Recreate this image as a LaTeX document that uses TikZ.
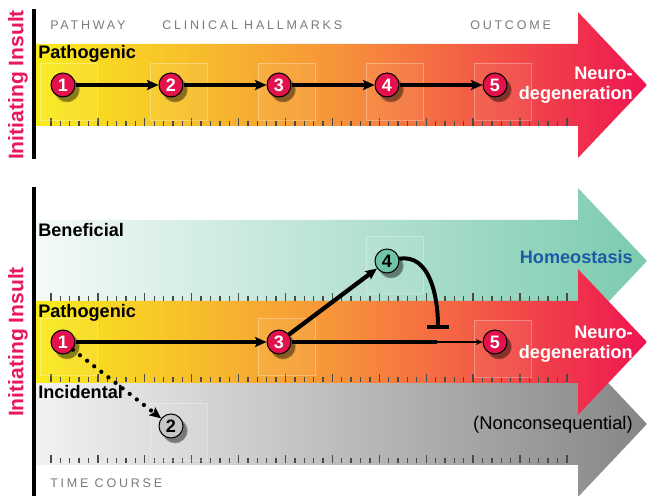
\documentclass[tikz,border=0pt]{standalone}
\usepackage{fontspec}
\setmainfont{Liberation Sans}
\newfontfamily\spacedfont[LetterSpace=22]{Liberation Sans}
\usetikzlibrary{arrows.meta, shadows}
\definecolor{insultred}{HTML}{E8185A}
\definecolor{stagered}{HTML}{E3124C}
\definecolor{bandyellow}{HTML}{F8EC1C}
\definecolor{bandorange}{HTML}{F7923A}
\definecolor{bandred}{HTML}{EE1552}
\definecolor{bandmint}{HTML}{F4FAF7}
\definecolor{bandteal}{HTML}{7CCBAF}
\definecolor{stageteal}{HTML}{6EC4A5}
\definecolor{bandlight}{HTML}{F2F2F2}
\definecolor{banddark}{HTML}{868686}
\definecolor{stagegray}{HTML}{C6C6C6}
\definecolor{homeoblue}{HTML}{1B5BA6}
\definecolor{capsgray}{HTML}{7A7A7A}
\definecolor{tickgray}{HTML}{4A4A4A}

\tikzset{
  stage/.style={circle, draw=black, line width=0.8pt, minimum size=18pt, inner sep=0pt,
    fill=stagered, text=white, font=\fontsize{13.5}{13.5}\selectfont\bfseries,
    circular drop shadow={shadow xshift=2.5pt, shadow yshift=-3pt, opacity=0.45, fill=black}},
  link/.style={line width=3.2pt, -{Stealth[length=8.5pt, width=7.5pt, inset=1.5pt]}},
  dotlink/.style={line width=3.2pt, line cap=round, dash pattern=on 0pt off 6.75pt,
    -{Stealth[length=8.5pt, width=7.5pt, inset=1.5pt]}},
  thinlink/.style={line width=0.8pt, -{Stealth[length=5pt, width=4.5pt]}},
  inhibit/.style={line width=3pt, -{Bar[width=16.5pt, line width=3pt]}},
  rowlabel/.style={anchor=base west, inner sep=0pt, font=\fontsize{13.6}{15}\selectfont\bfseries},
  endlabel/.style={inner sep=0pt, align=right, font=\fontsize{13.6}{15}\selectfont\bfseries},
  hallmark/.style={anchor=base west, inner sep=0pt, text=capsgray,
    font=\spacedfont\fontsize{9.4}{10}\selectfont},
  insult/.style={rotate=90, inner sep=0pt, text=insultred, font=\fontsize{15.8}{16}\selectfont\bfseries},
  tickmark/.style={tickgray, line width=1pt},
  stagebox/.style={draw=white, draw opacity=0.3, fill=white, fill opacity=0.06, line width=0.6pt}
}

% one wide arrow band: #1 = centre height, #2 = shading
\newcommand{\bandarrow}[2]{%
  \shade[#2] (35,#1-41) -- (578,#1-41) -- (578,#1-73) -- (647,#1)
    -- (578,#1+73) -- (578,#1+41) -- (35,#1+41) -- cycle;}

% time ruler along the bottom of a band
\newcommand{\timeticks}[1]{%
  \foreach \k in {0,...,55} {
    \pgfmathsetmacro{\ticklen}{mod(\k,5)==0 ? 8 : 5}
    \draw[tickmark] (51+9.38*\k,#1) -- ++(0,\ticklen);
  }}

\begin{document}
\begin{tikzpicture}[x=0.75pt, y=0.75pt]
  \useasboundingbox (0,0) rectangle (647,496);

  % Upper panel
  \bandarrow{411}{left color=bandyellow, right color=bandred, middle color=bandorange}
  \timeticks{370}
  \foreach \bx in {40,150,258,366,474}
    \draw[stagebox] (\bx,376) rectangle ++(57,57);

  \draw[line width=2.3pt] (34,487) -- (34,337);
  \node[insult] (insulttop) at (18,411) {Initiating Insult};

  \node[hallmark] (pathway) at (50,466) {PATHWAY};
  \node[hallmark] (hallmarks) at (162,466) {CLINICAL HALLMARKS};
  \node[hallmark] (outcome) at (470,466) {OUTCOME};
  \node[rowlabel] (pathotop) at (38,437) {Pathogenic};
  \node[endlabel, text=white, anchor=north east] (neurotop) at (633,429) {Neuro-\\degeneration};

  \node[stage] (t1) at (63,411) {1};
  \node[stage] (t2) at (171,411) {2};
  \node[stage] (t3) at (279,411) {3};
  \node[stage] (t4) at (387,411) {4};
  \node[stage] (t5) at (495,411) {5};
  \foreach \a/\b in {t1/t2, t2/t3, t3/t4, t4/t5}
    \draw[link] (\a) -- (\b);

  % Lower panel: beneficial, incidental, pathogenic
  \bandarrow{235}{left color=bandmint, right color=bandteal}
  \bandarrow{72}{left color=bandlight, right color=banddark}
  \bandarrow{154}{left color=bandyellow, right color=bandred, middle color=bandorange}
  \timeticks{195}
  \timeticks{114}
  \timeticks{33}
  \draw[stagebox] (40,121) rectangle ++(57,57);
  \draw[stagebox] (258,121) rectangle ++(57,57);
  \draw[stagebox] (474,119) rectangle ++(57,57);
  \draw[stagebox] (366,203) rectangle ++(57,57);
  \draw[stagebox] (150,36) rectangle ++(57,57);

  \draw[line width=2.3pt] (34,309) -- (34,0);
  \node[insult] (insultlow) at (18,154) {Initiating Insult};

  \node[rowlabel] (benef) at (38,259) {Beneficial};
  \node[rowlabel] (patholow) at (38,178) {Pathogenic};
  \node[rowlabel] (incid) at (38,97) {Incidental};
  \node[hallmark] (timecourse) at (50,8) {TIME COURSE};
  \node[endlabel, text=homeoblue, anchor=base east] (homeo) at (633,232) {Homeostasis};
  \node[endlabel, text=white, anchor=north east] (neurolow) at (633,170) {Neuro-\\degeneration};
  \node[endlabel, font=\fontsize{13.8}{15}\selectfont, anchor=base east] (noncons) at (633,66) {(Nonconsequential)};

  \node[stage] (b1) at (63,154) {1};
  \node[stage, fill=stagegray, text=black] (b2) at (171,70) {2};
  \node[stage] (b3) at (279,154) {3};
  \node[stage, fill=stageteal, text=black] (b4) at (387,235) {4};
  \node[stage] (b5) at (495,154) {5};
  \coordinate (cut) at (437,154);
  \coordinate (stop) at (438,167);

  \draw[link] (b1) -- (b3);
  \draw[link] (b3) -- (b4);
  \draw[dotlink] (b1) -- (b2);
  \draw[line width=3.2pt] (b3) -- (cut);
  \draw[thinlink] (cut) -- (b5);
  \draw[inhibit] (b4) to[out=10, in=90] (stop);
\end{tikzpicture}
\end{document}
